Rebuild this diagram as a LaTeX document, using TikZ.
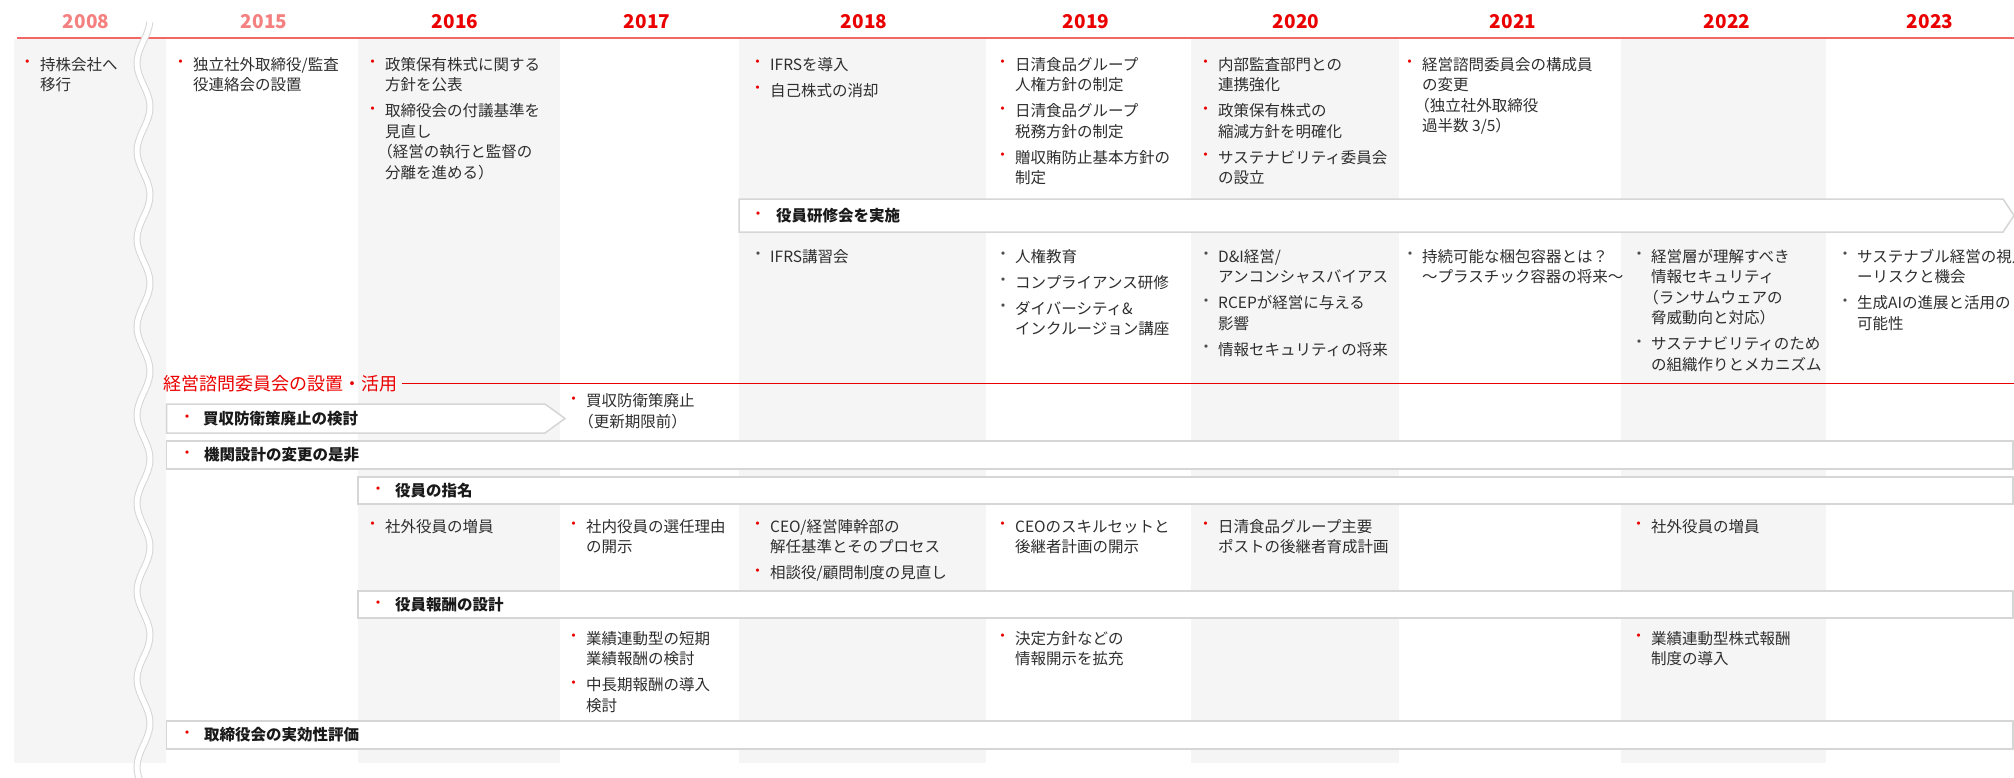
\documentclass[tikz,border=0pt]{standalone}
\usepackage{fontspec}
\setmainfont{Noto Sans CJK JP}
\usetikzlibrary{positioning}
\definecolor{nred}{RGB}{235,0,0}
\definecolor{colgray}{RGB}{245,245,245}
\definecolor{bandgray}{RGB}{214,214,214}
\def\lp{\kern-0.5em（}

\begin{document}
\begin{tikzpicture}[x=1pt,y=-1pt,
  year/.style={font=\fontsize{19}{19}\selectfont\bfseries, text=nred, inner sep=0pt},
  item/.style={anchor=north west, align=left, inner sep=0pt, text=black!82, font=\fontsize{15.5}{20.5}\selectfont},
  dot/.style={inner sep=0pt, text=nred, font=\fontsize{15.5}{20.5}\selectfont},
  band/.style={draw=bandgray, line width=1.5pt, fill=white},
  bandtext/.style={anchor=west, inner sep=0pt, text=black!90, font=\fontsize{15.5}{20.5}\selectfont\bfseries}
]
\useasboundingbox (0,0) rectangle (2014,777);
\fill[white] (0,0) rectangle (2014,777);

% column shading
\foreach \a/\b in {14/166, 358/560, 739/986, 1191/1399, 1621/1826}
  \fill[colgray] (\a,39) rectangle (\b,763);

% years
\node[year, text=nred!50] (y2008) at (86,22) {2008};
\node[year, text=nred!50] (y2015) at (264,22) {2015};
\foreach \yr/\x in {2016/455, 2017/647, 2018/864, 2019/1086, 2020/1296, 2021/1513, 2022/1727, 2023/1930}
  \node[year] (y\yr) at (\x,22) {\yr};
\coordinate (hl) at (17,38);
\coordinate (hr) at (2014,38);
\draw[nred!60, line width=1.2pt] (hl) -- (hr);

% items, red bullets
\foreach \n/\x/\y/\txt in {
  a08/40/64/{持株会社へ\\移行},
  a15/193/64/{独立社外取締役/監査\\役連絡会の設置},
  a16/385/64/{政策保有株式に関する\\方針を公表},
  b16/385/110.5/{取締役会の付議基準を\\見直し\\\lp 経営の執行と監督の\\分離を進める）},
  a18/770/64/{IFRSを導入},
  b18/770/90/{自己株式の消却},
  a19/1015/64/{日清食品グループ\\人権方針の制定},
  b19/1015/110.5/{日清食品グループ\\税務方針の制定},
  c19/1015/157/{贈収賄防止基本方針の\\制定},
  a20/1218/64/{内部監査部門との\\連携強化},
  b20/1218/110.5/{政策保有株式の\\縮減方針を明確化},
  c20/1218/157/{サステナビリティ委員会\\の設立},
  a21/1422/64/{経営諮問委員会の構成員\\の変更\\\lp 独立社外取締役\\過半数 3/5）},
  p17/586/400.5/{買収防衛策廃止\\\lp 更新期限前）},
  n16/385/526/{社外役員の増員},
  n17/586/526/{社内役員の選任理由\\の開示},
  n18/770/526/{CEO/経営陣幹部の\\解任基準とそのプロセス},
  m18/770/572.5/{相談役/顧問制度の見直し},
  n19/1015/526/{CEOのスキルセットと\\後継者計画の開示},
  n20/1218/526/{日清食品グループ主要\\ポストの後継者育成計画},
  n22/1651/526/{社外役員の増員},
  r17/586/638/{業績連動型の短期\\業績報酬の検討},
  s17/586/684.5/{中長期報酬の導入\\検討},
  r19/1015/638/{決定方針などの\\情報開示を拡充},
  r22/1651/638/{業績連動型株式報酬\\制度の導入}}{
  \node[item] (\n) at (\x,\y-8.45) {\strut\txt};
  \node[dot] (d\n) at ([xshift=-12.5pt,yshift=-8.45pt]\n.north west) {・};
}

% training items, gray bullets
\foreach \n/\x/\y/\txt in {
  t18/770/256/{IFRS講習会},
  t19/1015/256/{人権教育},
  u19/1015/282/{コンプライアンス研修},
  v19/1015/308/{ダイバーシティ\&\\インクルージョン講座},
  t20/1218/256/{D\&I経営/\\アンコンシャスバイアス},
  u20/1218/302.5/{RCEPが経営に与える\\影響},
  v20/1218/349/{情報セキュリティの将来},
  t21/1422/256/{持続可能な梱包容器とは？\\～プラスチック容器の将来～},
  t22/1651/256/{経営層が理解すべき\\情報セキュリティ\\\lp ランサムウェアの\\脅威動向と対応）},
  u22/1651/343.5/{サステナビリティのため\\の組織作りとメカニズム},
  t23/1857/256/{サステナブル経営の視点\\ーリスクと機会},
  u23/1857/302.5/{生成AIの進展と活用の\\可能性}}{
  \node[item] (\n) at (\x,\y-8.45) {\strut\txt};
  \node[dot, text=black!70] (d\n) at ([xshift=-12pt,yshift=-8.45pt]\n.north west) {・};
}

% bands
\draw[band] (739,199) -- (2003,199) -- (2014,215.5) -- (2003,232) -- (739,232) -- cycle;
\node[dot] (dken) at (758,216) {・};
\node[bandtext] (ken) at (776,216) {役員研修会を実施};

\node[font=\fontsize{18}{18}\selectfont, text=nred, anchor=west, inner sep=0pt] (kei) at (163,384) {経営諮問委員会の設置・活用};
\coordinate (keiend) at (2014,383.5);
\draw[draw=nred, line width=1.2pt] ([xshift=5pt,yshift=0.5pt]kei.east) -- (keiend);

\draw[band] (166.5,404) -- (545,404) -- (565,418.5) -- (545,433) -- (166.5,433) -- cycle;
\node[dot] (dbai) at (187,419) {・};
\node[bandtext] (bai) at (203,419) {買収防衛策廃止の検討};

\draw[band] (166.5,441) rectangle (2013,469);
\node[dot] (dkik) at (187,455) {・};
\node[bandtext] (kik) at (204,455) {機関設計の変更の是非};

\draw[band] (358,477) rectangle (2013,504);
\node[dot] (dsim) at (378,490.5) {・};
\node[bandtext] (sim) at (395,490.5) {役員の指名};

\draw[band] (358,591) rectangle (2013,618);
\node[dot] (dhos) at (378,604.5) {・};
\node[bandtext] (hos) at (395,604.5) {役員報酬の設計};

\draw[band] (166.5,721) rectangle (2013,749);
\node[dot] (djik) at (187,735) {・};
\node[bandtext] (jik) at (204,735) {取締役会の実効性評価};

% break mark
\draw[bandgray, line width=7pt] plot[domain=22:790, samples=160, variable=\t] ({143.5+6.5*sin((\t+3)*4.09)},\t);
\draw[white, line width=5pt] plot[domain=21:790, samples=160, variable=\t] ({143.5+6.5*sin((\t+3)*4.09)},\t);
\end{tikzpicture}
\end{document}
